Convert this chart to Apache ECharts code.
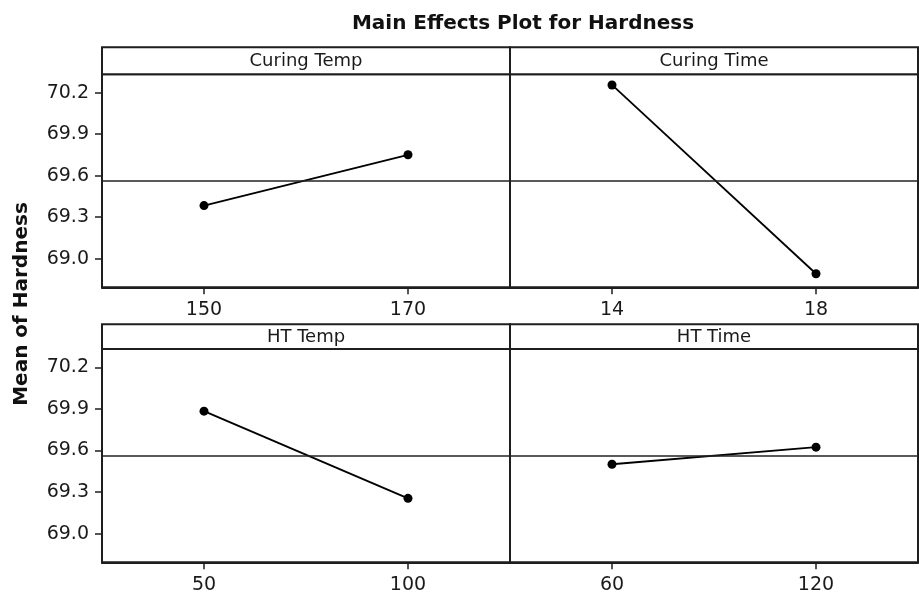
<!DOCTYPE html>
<html>
<head>
<meta charset="utf-8">
<script src="https://cdn.jsdelivr.net/npm/echarts@6/dist/echarts.min.js"></script>
<style>html,body{margin:0;padding:0;background:#fff}#c{width:919px;height:596px}</style>
</head>
<body>
<div id="c"></div>
<script>
// ---- data ----
const factors = ['Curing Temp', 'Curing Time', 'HT Temp', 'HT Time'];
const curingTempLevels = ['150', '170'];
const curingTimeLevels = ['14', '18'];
const htTempLevels = ['50', '100'];
const htTimeLevels = ['60', '120'];
const curingTempMeans = [69.384, 69.751];
const curingTimeMeans = [70.255, 68.892];
const htTempMeans = [69.884, 69.255];
const htTimeMeans = [69.501, 69.624];
const grandMean = 69.565;
const yTicks = [69.0, 69.3, 69.6, 69.9, 70.2];

const levels = [curingTempLevels, curingTimeLevels, htTempLevels, htTimeLevels];
const means = [curingTempMeans, curingTimeMeans, htTempMeans, htTimeMeans];

// ---- layout ----
const FONT = 'DejaVu Sans';
const cols = [[102, 510], [510, 918]];
const rows = [{ strip: 47.3, top: 74.3, bottom: 287.3 }, { strip: 324.3, top: 349, bottom: 562.3 }];
const yMin = 68.794, yMax = 70.332;
const lineColor = '#1e1e1e';

const grids = [], xAxes = [], yAxes = [], series = [], graphics = [];
for (let i = 0; i < 4; i++) {
  const c = cols[i % 2], r = rows[Math.floor(i / 2)];
  grids.push({
    left: c[0], top: r.top, width: c[1] - c[0], height: r.bottom - r.top,
    show: true, borderColor: lineColor, borderWidth: 2, backgroundColor: 'transparent'
  });
  xAxes.push({
    type: 'category', gridIndex: i, data: levels[i], boundaryGap: true,
    axisLine: { show: true, lineStyle: { color: lineColor, width: 2 } },
    axisTick: { show: true, alignWithLabel: true, length: 7, lineStyle: { color: lineColor, width: 1.5 } },
    axisLabel: { show: true, margin: 13, fontFamily: FONT, fontSize: 19, color: '#1a1a1a' },
    splitLine: { show: false }
  });
  const left = i % 2 === 0;
  yAxes.push({
    type: 'value', gridIndex: i, min: yMin, max: yMax,
    axisLine: { show: true, lineStyle: { color: lineColor, width: 2 } },
    axisTick: { show: left, length: 7, customValues: yTicks, lineStyle: { color: lineColor, width: 1.5 } },
    axisLabel: { show: left, margin: 13, customValues: yTicks, fontFamily: FONT, fontSize: 19, color: '#1a1a1a',
      formatter: v => Number(v).toFixed(1) },
    splitLine: { show: false }
  });
  series.push({
    type: 'line', xAxisIndex: i, yAxisIndex: i, data: means[i],
    symbol: 'circle', symbolSize: 9, showSymbol: true,
    lineStyle: { color: '#000', width: 1.8 }, itemStyle: { color: '#000' },
    animation: false, silent: true,
    markLine: {
      silent: true, symbol: 'none', animation: false, label: { show: false },
      lineStyle: { color: '#222', width: 1.6, type: 'solid' },
      data: [{ yAxis: grandMean }]
    }
  });
  // strip header
  graphics.push({
    type: 'rect', shape: { x: c[0], y: r.strip, width: c[1] - c[0], height: r.top - r.strip },
    style: { fill: '#fff', stroke: lineColor, lineWidth: 2 }, z: 10
  });
  graphics.push({
    type: 'text', x: (c[0] + c[1]) / 2, y: (r.strip + r.top) / 2 + 1, z: 11,
    style: { text: factors[i], font: '18px "' + FONT + '"', fill: '#1a1a1a', textAlign: 'center', textVerticalAlign: 'middle' }
  });
}
graphics.push({
  type: 'text', x: 22, y: 304, rotation: Math.PI / 2, z: 11,
  style: { text: 'Mean of Hardness', font: 'bold 20px "' + FONT + '"', fill: '#111', textAlign: 'center', textVerticalAlign: 'middle' }
});

const chart = echarts.init(document.getElementById('c'), null, { renderer: 'canvas' });
chart.setOption({
  animation: false,
  backgroundColor: '#fff',
  title: {
    text: 'Main Effects Plot for Hardness', left: 518, top: 9, textAlign: 'center',
    textStyle: { fontFamily: FONT, fontWeight: 'bold', fontSize: 20, color: '#111' }
  },
  grid: grids, xAxis: xAxes, yAxis: yAxes, series: series, graphic: graphics
});
</script>
</body>
</html>
